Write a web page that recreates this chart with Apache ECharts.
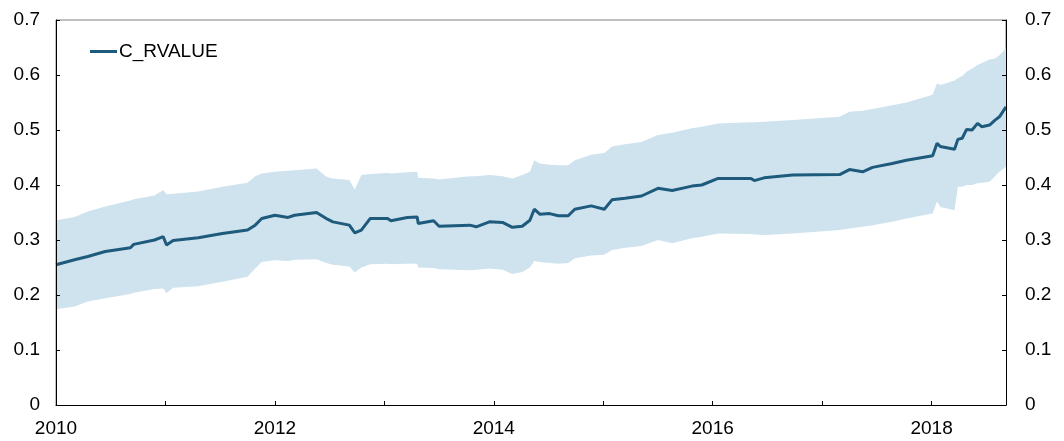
<!DOCTYPE html>
<html>
<head>
<meta charset="utf-8">
<style>
  html, body { margin: 0; padding: 0; background: #fff; }
  #chart { width: 1064px; height: 441px; }
</style>
<script src="https://cdn.jsdelivr.net/npm/echarts@6/dist/echarts.min.js"></script>
</head>
<body>
<div id="chart"></div>
<script>
// decimal years
const years = [
  2010.00, 2010.17, 2010.29, 2010.45, 2010.68, 2010.71, 2010.90, 2010.98, 2011.01, 2011.07,
  2011.30, 2011.52, 2011.75, 2011.82, 2011.88, 2012.00, 2012.12, 2012.18, 2012.38, 2012.47,
  2012.53, 2012.68, 2012.73, 2012.79, 2012.87, 2013.03, 2013.06, 2013.21, 2013.30, 2013.31,
  2013.45, 2013.50, 2013.78, 2013.84, 2013.96, 2014.08, 2014.17, 2014.26, 2014.33, 2014.37,
  2014.42, 2014.51, 2014.59, 2014.68, 2014.74, 2014.89, 2015.01, 2015.08, 2015.20, 2015.35,
  2015.50, 2015.63, 2015.81, 2015.90, 2016.05, 2016.35, 2016.38, 2016.47, 2016.73, 2017.16,
  2017.25, 2017.37, 2017.46, 2017.64, 2017.77, 2018.01, 2018.05, 2018.08, 2018.21, 2018.24,
  2018.28, 2018.32, 2018.37, 2018.42, 2018.46, 2018.53, 2018.58, 2018.62, 2018.68
];
const rvalue = [
  0.255, 0.264, 0.270, 0.279, 0.286, 0.292, 0.300, 0.306, 0.291, 0.299,
  0.304, 0.312, 0.318, 0.327, 0.339, 0.345, 0.341, 0.345, 0.350, 0.339,
  0.333, 0.327, 0.313, 0.318, 0.339, 0.339, 0.335, 0.341, 0.342, 0.330,
  0.335, 0.325, 0.327, 0.324, 0.333, 0.332, 0.323, 0.325, 0.336, 0.356,
  0.347, 0.348, 0.344, 0.344, 0.356, 0.362, 0.356, 0.373, 0.376, 0.380,
  0.394, 0.390, 0.398, 0.400, 0.412, 0.412, 0.408, 0.413, 0.418, 0.419,
  0.428, 0.424, 0.432, 0.439, 0.445, 0.453, 0.476, 0.470, 0.465, 0.483,
  0.485, 0.501, 0.500, 0.512, 0.506, 0.509, 0.518, 0.524, 0.542
];
const upper = [
  0.336, 0.342, 0.352, 0.361, 0.372, 0.374, 0.381, 0.391, 0.383, 0.384,
  0.388, 0.397, 0.404, 0.416, 0.421, 0.424, 0.426, 0.427, 0.430, 0.415,
  0.412, 0.409, 0.392, 0.418, 0.420, 0.422, 0.421, 0.423, 0.424, 0.413,
  0.412, 0.410, 0.416, 0.416, 0.418, 0.416, 0.412, 0.418, 0.424, 0.445,
  0.439, 0.437, 0.436, 0.436, 0.445, 0.455, 0.458, 0.470, 0.474, 0.478,
  0.491, 0.495, 0.503, 0.506, 0.512, 0.514, 0.514, 0.515, 0.518, 0.524,
  0.533, 0.535, 0.538, 0.545, 0.550, 0.564, 0.585, 0.582, 0.590, 0.594,
  0.598, 0.606, 0.612, 0.618, 0.622, 0.628, 0.630, 0.636, 0.648
];
const lower = [
  0.174, 0.179, 0.188, 0.194, 0.202, 0.204, 0.211, 0.212, 0.203, 0.213,
  0.216, 0.224, 0.233, 0.248, 0.260, 0.263, 0.262, 0.264, 0.265, 0.258,
  0.255, 0.252, 0.241, 0.250, 0.256, 0.257, 0.256, 0.257, 0.257, 0.250,
  0.249, 0.247, 0.245, 0.246, 0.248, 0.246, 0.238, 0.242, 0.250, 0.262,
  0.260, 0.258, 0.257, 0.258, 0.267, 0.272, 0.273, 0.282, 0.286, 0.289,
  0.300, 0.294, 0.303, 0.306, 0.312, 0.311, 0.310, 0.309, 0.312, 0.318,
  0.321, 0.324, 0.327, 0.333, 0.339, 0.348, 0.370, 0.360, 0.354, 0.397,
  0.397, 0.400, 0.400, 0.403, 0.404, 0.406, 0.416, 0.424, 0.433
];

const myChart = echarts.init(document.getElementById("chart"));
const font = "'Liberation Sans', Arial, sans-serif";

const upperData = years.map((x, i) => [x, upper[i]]);
const lowerData = years.map((x, i) => [x, lower[i]]);
const lineData = years.map((x, i) => [x, rvalue[i]]);

const yAxisBase = {
  type: "value",
  min: 0,
  max: 0.7,
  interval: 0.1,
  z: 10,
  splitLine: { show: false },
  axisLine: { show: true, lineStyle: { color: "#000", width: 1 } },
  axisTick: { show: true, inside: true, length: 4, lineStyle: { color: "#000" } },
  axisLabel: {
    color: "#000",
    fontSize: 19,
    fontFamily: font,
    formatter: (v) => (v === 0 ? "0" : v.toFixed(1)),
  },
};

let option = {
  animation: false,
  backgroundColor: "#fff",
  grid: {
    left: 56,
    right: 58,
    top: 20,
    bottom: 36,
    show: true,
    borderColor: "#808080",
    borderWidth: 1,
  },
  legend: {
    data: ["C_RVALUE"],
    left: 85,
    top: 37,
    icon: "rect",
    itemWidth: 27,
    itemHeight: 3,
    textStyle: { color: "#000", fontSize: 19, fontFamily: font, padding: [0, 0, 0, -3] },
  },
  xAxis: {
    type: "value",
    min: 2010,
    max: 2018.68,
    interval: 1,
    z: 10,
    splitLine: { show: false },
    axisLine: { lineStyle: { color: "#000", width: 1 } },
    axisTick: { inside: true, length: 4, lineStyle: { color: "#000" } },
    axisLabel: {
      color: "#000",
      fontSize: 19,
      fontFamily: font,
      margin: 14,
      showMaxLabel: false,
      formatter: (v) => (Number.isInteger(v) && v % 2 === 0 ? String(v) : ""),
    },
  },
  yAxis: [
    Object.assign({}, yAxisBase, { position: "left", axisLabel: Object.assign({}, yAxisBase.axisLabel, { margin: 16 }) }),
    Object.assign({}, yAxisBase, { position: "right", axisLabel: Object.assign({}, yAxisBase.axisLabel, { margin: 19 }) }),
  ],
  series: [
    {
      name: "upper",
      type: "line",
      symbol: "none",
      lineStyle: { width: 0, opacity: 0 },
      areaStyle: { color: "#cfe3ef", opacity: 1 },
      data: upperData,
      z: 1,
    },
    {
      name: "lower",
      type: "line",
      symbol: "none",
      lineStyle: { width: 0, opacity: 0 },
      areaStyle: { color: "#ffffff", opacity: 1 },
      data: lowerData,
      z: 1,
    },
    {
      name: "C_RVALUE",
      type: "line",
      symbol: "none",
      color: "#1d5a7c",
      lineStyle: { color: "#1d5a7c", width: 3 },
      data: lineData,
      z: 3,
    },
  ],
};
myChart.setOption(option);
</script>
</body>
</html>
